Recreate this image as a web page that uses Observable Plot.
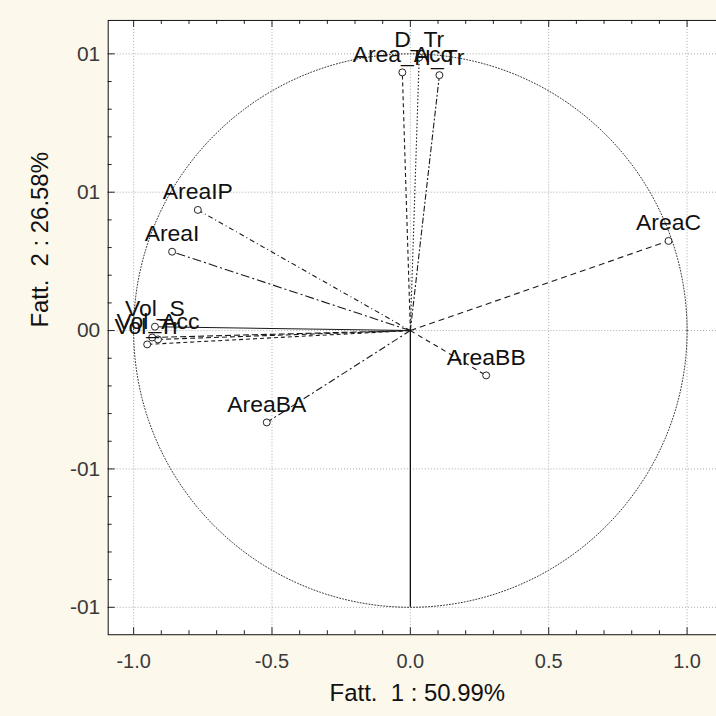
<!DOCTYPE html>
<html><head><meta charset="utf-8">
<script src="https://cdn.jsdelivr.net/npm/d3@7"></script>
<script src="https://cdn.jsdelivr.net/npm/@observablehq/plot@0.6"></script>
<style>
html,body{margin:0;padding:0;background:#fcf8ec;overflow:hidden;width:716px;height:716px}
#chart svg{display:block}
</style></head><body><div id="chart"></div>
<script>
// Variable loadings (factor 1, factor 2)
const names   = ["AreaC","AreaBB","AreaBA","AreaIP","AreaI","Area_Acc","D_Tr","H_Tr","Vol_S","Vol_Acc","Vol_Tr",""];
const factor1 = [0.933, 0.274, -0.519, -0.768, -0.861, -0.029, 0.032, 0.105, -0.923, -0.912, -0.951, -0.933];
const factor2 = [0.324, -0.162, -0.332, 0.436, 0.285, 0.933, 0.987, 0.923, 0.014, -0.032, -0.050, -0.025];

const xTicks = [-1, -0.5, 0, 0.5, 1];
const xTickLabels = ["-1.0", "-0.5", "0.0", "0.5", "1.0"];
const yTicks = [1, 0.5, 0, -0.5, -1];
const yTickLabels = ["01", "01", "00", "-01", "-01"];
const xTitle = "Fatt.  1 : 50.99%";
const yTitle = "Fatt.  2 : 26.58%";

// line styles (kept apart from the data)
const dashOf = {AreaC:"6,4", AreaBB:"5,4", AreaBA:"7,3,2,3", AreaIP:"5,3,1,3", AreaI:"9,3,2,3",
  Area_Acc:"4,3", D_Tr:"1.5,2", H_Tr:"6,2,2,2", Vol_S:null, Vol_Acc:"5,3", Vol_Tr:"4,3", "":"6,3"};

const data = names.map((n, i) => ({name: n, x: factor1[i], y: factor2[i]}));

// unit circle (reference geometry)
const circle = d3.range(0, 361, 1).map(a => ({x: Math.cos(a * Math.PI / 180), y: Math.sin(a * Math.PI / 180)}));

const W = 718, H = 716, mL = 108, mR = 0, mT = 20, mB = 80;
const unit = 277.5; // px per unit
const xDom = [-(411 - mL) / unit, (W - mR - 411) / unit];
const yDom = [-(H - mB - 331) / unit, (331 - mT) / unit];
const px = 1 / unit;
const minor = d3.range(-10, 11).map(v => v / 10).filter(v => v >= xDom[0] && v <= xDom[1]);
const minorY = d3.range(-10, 11).map(v => v / 10).filter(v => v >= yDom[0] && v <= yDom[1]);

const linkMarks = data.map(d => Plot.link([d], {
  x1: () => 0, y1: () => 0, x2: "x", y2: "y",
  stroke: "#1a1a1a", strokeWidth: 1.1,
  strokeDasharray: dashOf[d.name] || undefined
}));

const fontFam = "'Liberation Sans', Arial, sans-serif";

const chart = Plot.plot({
  width: W, height: H,
  marginLeft: mL, marginRight: mR, marginTop: mT, marginBottom: mB,
  x: {domain: xDom, axis: null},
  y: {domain: yDom, axis: null},
  style: {background: "transparent", fontFamily: fontFam},
  marks: [
    Plot.frame({fill: "white", stroke: null}),
    Plot.ruleX(xTicks, {stroke: "#aaa", strokeDasharray: "1,2"}),
    Plot.ruleY(yTicks, {stroke: "#aaa", strokeDasharray: "1,2"}),
    Plot.line(circle, {x: "x", y: "y", stroke: "#333", strokeWidth: 1, strokeDasharray: "1,2"}),
    Plot.ruleX([0], {y1: 0, y2: -1, stroke: "#111", strokeWidth: 1.3}),
    ...linkMarks,
    Plot.dot(data, {x: "x", y: "y", r: 3.5, stroke: "#222", strokeWidth: 1, fill: "white"}),
    Plot.text(data, {x: "x", y: "y", text: "name", fontSize: 23, fill: "#111", dy: -18, lineAnchor: "middle"}),
    // inner ticks: bottom/top
    Plot.ruleX(minor, {y1: yDom[0], y2: d => yDom[0] + (xTicks.includes(d) ? 7 : 4) * px, stroke: "#222"}),
    Plot.ruleX(minor, {y1: yDom[1], y2: d => yDom[1] - (xTicks.includes(d) ? 7 : 4) * px, stroke: "#222"}),
    // inner ticks: left
    Plot.ruleY(minorY, {x1: xDom[0], x2: d => xDom[0] + (yTicks.includes(d) ? 7 : 4) * px, stroke: "#222"}),
    Plot.frame({stroke: "#111"}),
    Plot.axisX(xTicks, {anchor: "bottom", tickSize: 0, tickPadding: 19, fontSize: 20, fill: "#3a3a3a",
      tickFormat: d => xTickLabels[xTicks.indexOf(d)], label: null}),
    Plot.axisY(yTicks, {anchor: "left", tickSize: 0, tickPadding: 8, fontSize: 21, fill: "#3a3a3a",
      tickFormat: d => yTickLabels[yTicks.indexOf(d)], label: null}),
    Plot.text([xTitle], {frameAnchor: "bottom", dy: 59, dx: 5, fontSize: 24, fill: "#111", lineAnchor: "middle"}),
    Plot.text([yTitle], {frameAnchor: "left", dx: -68, rotate: -90, fontSize: 24, fill: "#111", lineAnchor: "middle"})
  ]
});
document.getElementById("chart").appendChild(chart);
</script>
</body></html>
